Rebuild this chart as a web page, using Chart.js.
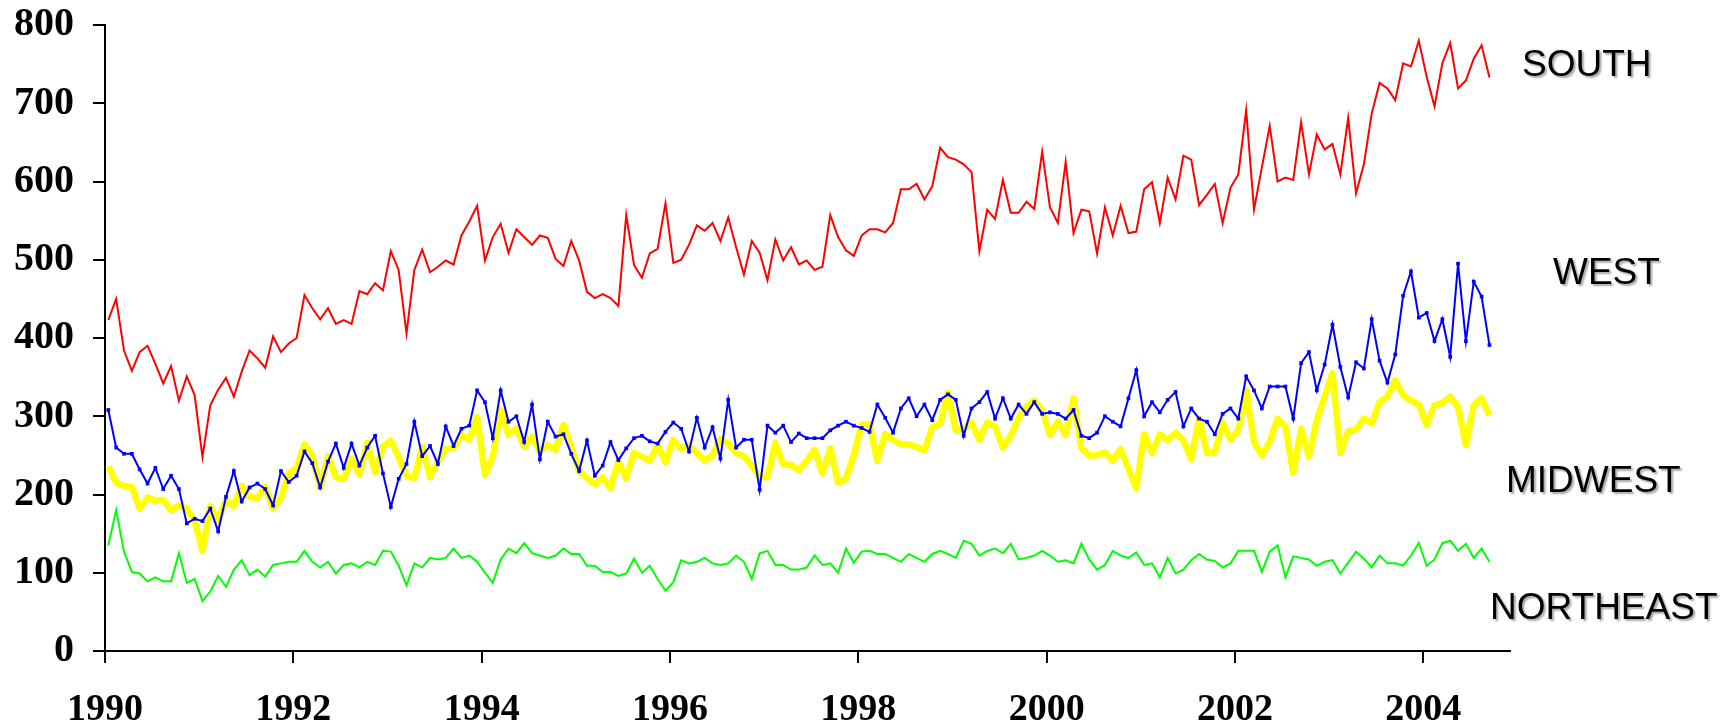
<!DOCTYPE html>
<html>
<head>
<meta charset="utf-8">
<title>Regional series 1990-2004</title>
<script src="https://cdn.jsdelivr.net/npm/chart.js@4.4.1/dist/chart.umd.min.js"></script>
<style>
    html, body { margin: 0; padding: 0; background: #fff; }
    #wrap { width: 1731px; height: 726px; }
</style>
</head>
<body>
<div id="wrap"><canvas id="chart" width="1731" height="726"></canvas></div>
<script>
// Monthly values, Jan 1990 - Sep 2004
const startYear = 1990;

const south = [
    423, 450, 384, 358, 382, 390, 367, 342, 364, 320, 351, 327,
    248, 314, 334, 349, 325, 357, 384, 374, 362, 402, 382, 393,
    400, 455, 438, 424, 438, 418, 423, 418, 460, 456, 470, 461,
    511, 487, 406, 487, 513, 484, 491, 499, 494, 531, 549, 569,
    499, 529, 546, 509, 539, 529, 519, 531, 528, 501, 492, 524,
    499, 459, 451, 456, 451, 441, 557, 493, 477, 508, 514, 572,
    496, 500, 519, 544, 537, 547, 524, 554, 516, 481, 524, 509,
    474, 526, 499, 516, 494, 499, 487, 491, 557, 529, 512, 505,
    531, 539, 539, 535, 547, 590, 590, 597, 577, 594, 643, 631,
    628, 622, 612, 511, 564, 552, 602, 560, 560, 574, 565, 638,
    567, 547, 625, 534, 564, 562, 508, 567, 531, 569, 534, 536,
    590, 599, 547, 605, 577, 633, 628, 570, 583, 597, 547, 592,
    609, 691, 564, 618, 671, 600, 605, 602, 676, 609, 660, 641,
    648, 609, 681, 585, 622, 687, 726, 719, 704, 751, 747, 780,
    734, 696, 751, 777, 719, 729, 757, 774, 733
];

const west = [
    308, 260, 252, 252, 232, 214, 234, 207, 224, 207, 163, 169,
    166, 182, 153, 197, 230, 191, 209, 214, 207, 186, 230, 216,
    224, 255, 240, 209, 242, 265, 234, 265, 237, 260, 275, 227,
    184, 220, 239, 293, 249, 262, 239, 287, 262, 284, 288, 333,
    318, 272, 333, 293, 300, 267, 315, 245, 293, 274, 277, 252,
    230, 269, 224, 237, 267, 244, 259, 272, 275, 268, 265, 280,
    292, 284, 255, 298, 260, 286, 246, 321, 260, 270, 270, 206,
    288, 279, 288, 267, 278, 272, 272, 272, 282, 288, 293, 288,
    285, 280, 315, 298, 279, 310, 323, 300, 315, 295, 321, 328,
    321, 275, 310, 318, 331, 297, 323, 297, 315, 303, 318, 303,
    305, 303, 297, 308, 275, 272, 279, 300, 293, 287, 323, 359,
    300, 318, 305, 321, 331, 287, 310, 297, 293, 277, 303, 310,
    297, 351, 333, 310, 338, 338, 338, 297, 368, 382, 333, 366,
    417, 363, 324, 369, 361, 424, 371, 343, 379, 454, 485, 426,
    432, 396, 424, 376, 495, 396, 472, 453, 391
];

const midwest = [
    236, 215, 211, 210, 182, 196, 192, 193, 180, 186, 182, 167,
    128, 185, 167, 193, 185, 211, 197, 195, 210, 182, 195, 227,
    233, 264, 250, 209, 249, 222, 220, 246, 225, 266, 228, 261,
    269, 248, 224, 221, 261, 222, 242, 258, 259, 276, 270, 299,
    225, 248, 308, 276, 284, 261, 274, 255, 263, 257, 289, 261,
    230, 221, 213, 222, 208, 242, 221, 253, 248, 243, 263, 241,
    270, 258, 263, 253, 243, 250, 271, 265, 253, 249, 237, 222,
    222, 266, 238, 238, 231, 243, 257, 227, 259, 215, 220, 250,
    289, 290, 243, 277, 270, 264, 264, 261, 256, 286, 290, 330,
    282, 284, 292, 270, 292, 287, 260, 275, 297, 313, 320, 308,
    276, 293, 276, 323, 259, 250, 250, 254, 243, 258, 233, 208,
    277, 253, 277, 269, 279, 269, 245, 297, 253, 253, 292, 270,
    282, 333, 267, 250, 267, 297, 287, 228, 284, 248, 295, 325,
    355, 253, 281, 283, 297, 291, 318, 325, 346, 327, 320, 315,
    289, 314, 317, 325, 312, 263, 314, 323, 301
];

const northeast = [
    135, 180, 127, 101, 99, 89, 94, 89, 89, 125, 87, 92,
    64, 76, 96, 82, 104, 116, 97, 104, 95, 110, 112, 114,
    114, 128, 114, 107, 114, 99, 110, 112, 107, 114, 110, 128,
    127, 109, 84, 112, 107, 119, 117, 119, 131, 119, 122, 114,
    100, 87, 117, 131, 125, 138, 125, 122, 119, 122, 131, 124,
    124, 109, 109, 101, 101, 96, 99, 118, 100, 109, 92, 77,
    88, 116, 112, 114, 119, 112, 110, 112, 122, 114, 92, 125,
    128, 110, 110, 104, 104, 107, 122, 110, 112, 100, 131, 113,
    127, 128, 124, 124, 119, 114, 124, 119, 114, 124, 128, 124,
    119, 141, 137, 122, 128, 131, 125, 137, 117, 119, 122, 128,
    122, 114, 116, 112, 137, 117, 104, 110, 128, 122, 119, 126,
    110, 112, 94, 119, 99, 104, 116, 124, 117, 115, 107, 112,
    128, 128, 128, 101, 127, 135, 94, 121, 119, 117, 109, 114,
    116, 99, 113, 127, 118, 107, 122, 112, 112, 109, 122, 138,
    109, 117, 138, 141, 128, 137, 119, 131, 114
];

const xTickYears = [1990, 1992, 1994, 1996, 1998, 2000, 2002, 2004];
const yTickValues = [0, 100, 200, 300, 400, 500, 600, 700, 800];
const regionNames = ['SOUTH', 'WEST', 'MIDWEST', 'NORTHEAST'];

// month index -> decimal year (points sit a bit into the month)
function monthX(i) {
    return startYear + (i + 0.42) / 12;
}

function toPoints(values) {
    return values.map((v, i) => ({ x: monthX(i), y: v }));
}

// Text labels on the right of the plot
const regionLabelPos = [
    { x: 1522, y: 66 },
    { x: 1553, y: 274 },
    { x: 1506, y: 482 },
    { x: 1490, y: 609 }
];

const regionLabels = {
    id: 'regionLabels',
    afterDraw(chart) {
        const ctx = chart.ctx;
        ctx.save();
        ctx.font = '37px "Liberation Sans", Arial, sans-serif';
        ctx.fillStyle = '#000';
        ctx.textAlign = 'left';
        ctx.textBaseline = 'middle';
        ctx.shadowColor = 'rgba(0, 0, 0, 0.35)';
        ctx.shadowOffsetX = 2;
        ctx.shadowOffsetY = 2;
        ctx.shadowBlur = 2;
        regionNames.forEach((name, k) => {
            ctx.fillText(name, regionLabelPos[k].x, regionLabelPos[k].y);
        });
        ctx.restore();
    }
};

const serif = '"Liberation Serif", "Times New Roman", serif';

Chart.defaults.color = '#000';

new Chart(document.getElementById('chart'), {
    type: 'line',
    data: {
        datasets: [
            {
                label: 'South',
                data: toPoints(south),
                borderColor: '#ff0000',
                borderWidth: 2,
                pointRadius: 0
            },
            {
                label: 'West',
                data: toPoints(west),
                borderColor: '#0000ff',
                backgroundColor: '#0000ff',
                borderWidth: 2,
                pointStyle: 'rect',
                pointRadius: 2.6,
                pointBorderWidth: 0
            },
            {
                label: 'Midwest',
                data: toPoints(midwest),
                borderColor: '#ffff00',
                borderWidth: 6.5,
                borderJoinStyle: 'round',
                pointRadius: 0
            },
            {
                label: 'Northeast',
                data: toPoints(northeast),
                borderColor: '#00ff00',
                borderWidth: 2,
                pointRadius: 0
            }
        ]
    },
    options: {
        responsive: false,
        animation: false,
        layout: { padding: { top: 25, right: 221, left: 0, bottom: 0 } },
        elements: { line: { tension: 0, fill: false } },
        plugins: {
            legend: { display: false },
            tooltip: { enabled: false }
        },
        scales: {
            x: {
                type: 'linear',
                min: 1990,
                max: 2004.92,
                afterBuildTicks: (scale) => {
                    scale.ticks = xTickYears.map(v => ({ value: v }));
                },
                afterFit: (scale) => {
                    scale.height = 75;
                    scale.paddingLeft = 0;
                    scale.paddingRight = 0;
                },
                grid: { drawOnChartArea: false, drawTicks: true, tickLength: 12, color: '#000', lineWidth: 2 },
                border: { display: true, color: '#000', width: 2 },
                ticks: {
                    font: { family: serif, size: 38, weight: 'bold' },
                    padding: 24,
                    maxRotation: 0,
                    autoSkip: false,
                    callback: (v) => String(v)
                }
            },
            y: {
                min: 0,
                max: 800,
                afterBuildTicks: (scale) => {
                    scale.ticks = yTickValues.map(v => ({ value: v }));
                },
                afterFit: (scale) => {
                    scale.width = 105;
                    scale.paddingTop = 0;
                    scale.paddingBottom = 0;
                },
                grid: { drawOnChartArea: false, drawTicks: true, tickLength: 12, color: '#000', lineWidth: 2 },
                border: { display: true, color: '#000', width: 2 },
                ticks: {
                    font: { family: serif, size: 40, weight: 'bold' },
                    padding: 19,
                    callback: (v) => String(v)
                }
            }
        }
    },
    plugins: [regionLabels]
});
</script>
</body>
</html>
